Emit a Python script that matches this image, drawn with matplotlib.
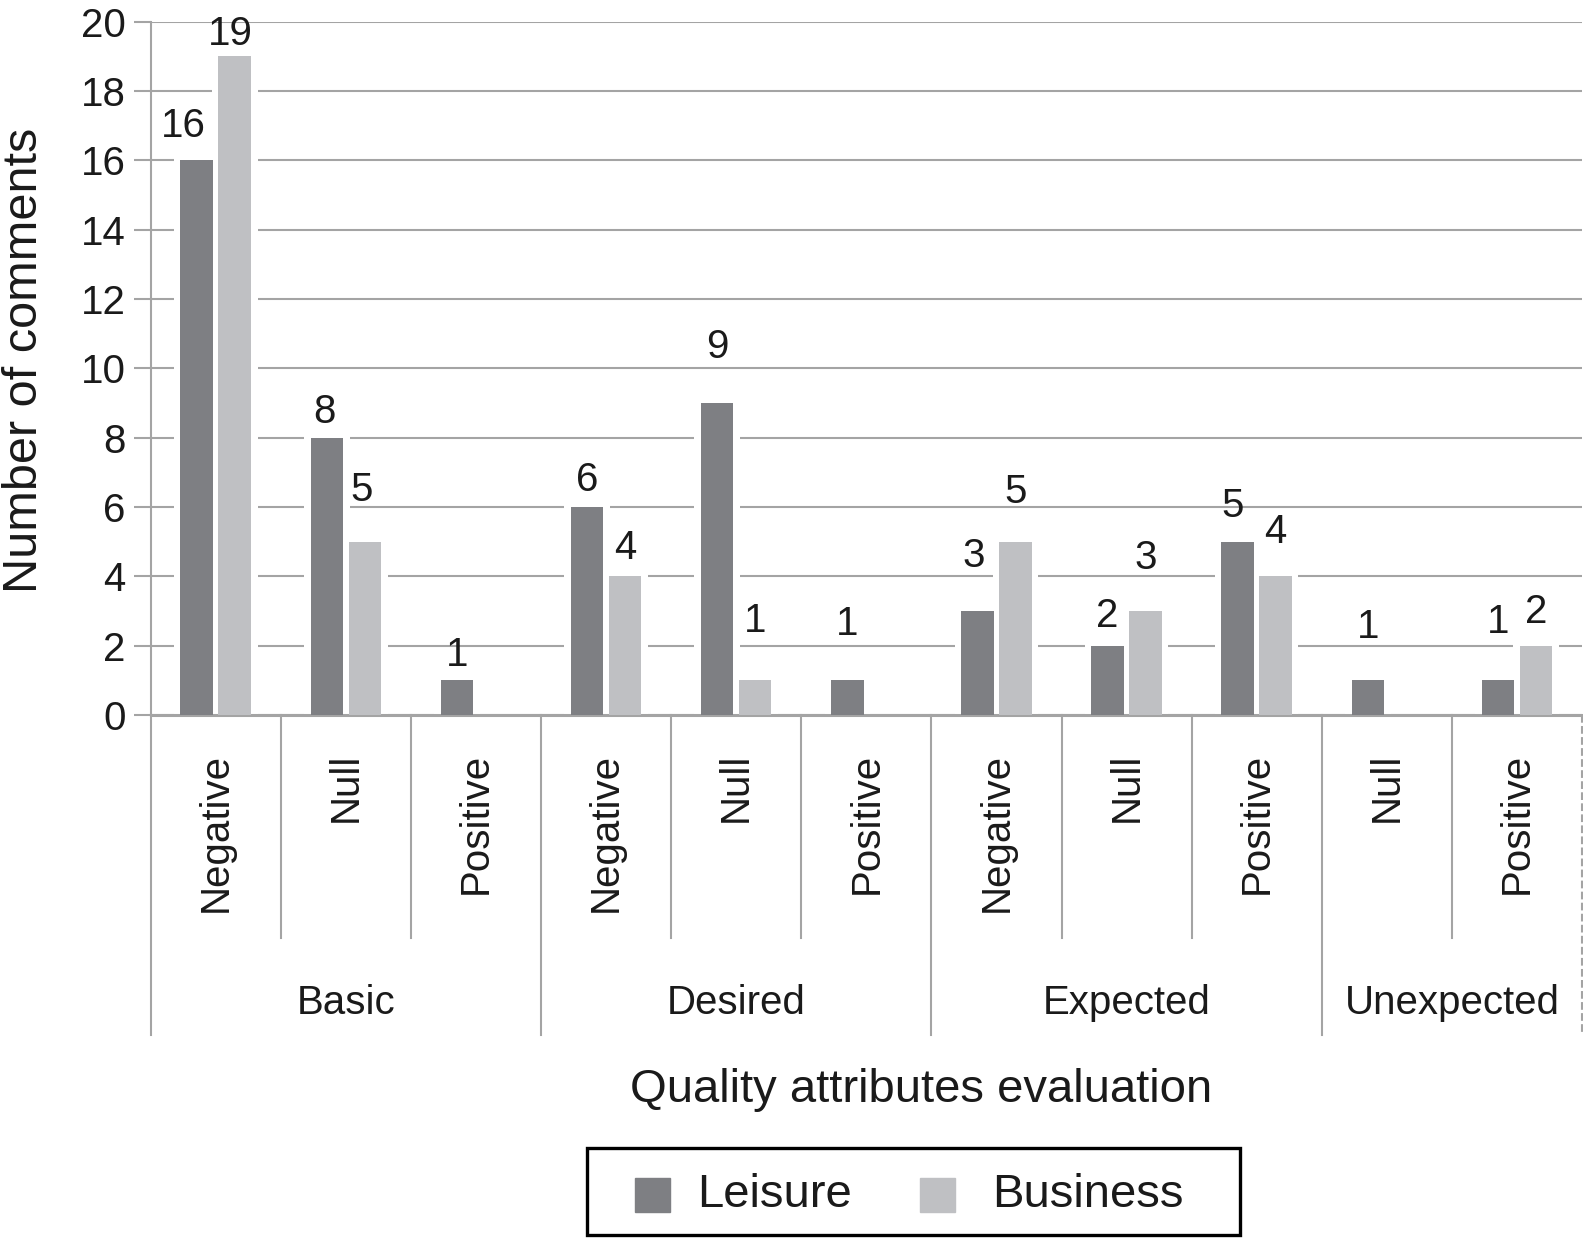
import numpy as np
import matplotlib
matplotlib.use("Agg")
import matplotlib.pyplot as plt
import matplotlib.transforms as mtransforms
from matplotlib.patches import Rectangle

plt.rcParams['font.family'] = ['Liberation Sans', 'DejaVu Sans']

# ---------- DATA ----------
groups = ['Basic', 'Desired', 'Expected', 'Unexpected']
group_sizes = [3, 3, 3, 2]
evaluations = ['Negative', 'Null', 'Positive',
               'Negative', 'Null', 'Positive',
               'Negative', 'Null', 'Positive',
               'Null', 'Positive']
leisure = [16, 8, 1, 6, 9, 1, 3, 2, 5, 1, 1]
business = [19, 5, None, 4, 1, None, 5, 3, 4, None, 2]
yticks = list(range(0, 21, 2))

# where each value label sits relative to its bar top (pixels)
leisure_lab_dx = [-13, -2, 0, 0, 0, 0, -4, 0, -5, 0, 0]
leisure_lab_dy = [34, 26, 25, 27, 56, 56, 55, 30, 36, 53, 58]
business_lab_dx = [-4, -3, 0, 0, 0, 0, 0, 0, 0, 0, 0]
business_lab_dy = [22, 52, 0, 28, 59, 0, 50, 53, 44, 0, 34]

# ---------- STYLE ----------
W, H = 1583, 1248
c_leisure = '#7e7f83'
c_business = '#bfc0c3'
c_grid = '#a4a4a4'
c_text = '#1a1a1a'
bar_w = 0.25
off = 0.146

fig = plt.figure(figsize=(W / 100, H / 100), dpi=100)
ax = fig.add_axes([150.7 / W, 1 - 715 / H, (1582 - 150.7) / W, (715 - 21.7) / H])

x = np.arange(len(evaluations))
ax.set_xlim(-0.5, len(evaluations) - 0.5)
ax.set_ylim(0, 20)
ax.set_axisbelow(True)

# white halo behind bars, then the bars
hx, hy = 0.05, 0.17
for xs, vals, col in [(x - off, leisure, c_leisure), (x + off, business, c_business)]:
    xs_ok = [xi for xi, v in zip(xs, vals) if v is not None]
    v_ok = [v for v in vals if v is not None]
    ax.bar(xs_ok, [v + hy for v in v_ok], width=bar_w + 2 * hx, color='white', zorder=2)
    ax.bar(xs_ok, v_ok, width=bar_w, color=col, zorder=3)

# value labels
for i, v in enumerate(leisure):
    ax.annotate(str(v), (x[i] - off, v), xytext=(leisure_lab_dx[i], leisure_lab_dy[i]),
                textcoords='offset pixels', ha='center', va='center',
                fontsize=29, color=c_text, zorder=4)
for i, v in enumerate(business):
    if v is None:
        continue
    ax.annotate(str(v), (x[i] + off, v), xytext=(business_lab_dx[i], business_lab_dy[i]),
                textcoords='offset pixels', ha='center', va='center',
                fontsize=29, color=c_text, zorder=4)

# y axis / grid
ax.set_yticks(yticks)
ax.yaxis.grid(True, color=c_grid, linewidth=1.5)
ax.tick_params(axis='y', direction='out', length=12, width=1.5, color=c_grid,
               labelsize=29, labelcolor=c_text, pad=6)
ax.set_xticks([])
for s in ['top', 'right']:
    ax.spines[s].set_visible(False)
ax.spines['left'].set_color(c_grid)
ax.spines['left'].set_linewidth(1.5)
ax.spines['bottom'].set_color(c_grid)
ax.spines['bottom'].set_linewidth(2.2)

# multi-level category axis below the plot
trans = mtransforms.blended_transform_factory(ax.transData, ax.transAxes)
inner_bottom = -(938 - 715) / (715 - 21.7)
outer_bottom = -(1035 - 715) / (715 - 21.7)
bounds = np.cumsum([0] + group_sizes) - 0.5
for b in np.arange(0.5, len(evaluations) - 0.5):
    if b not in bounds:
        ax.plot([b, b], [0, inner_bottom], transform=trans, color=c_grid,
                lw=1.5, clip_on=False)
for b in bounds:
    ls = '--' if b == bounds[-1] else '-'
    ax.plot([b, b], [0, outer_bottom], transform=trans, color=c_grid,
            lw=1.5, ls=ls, clip_on=False)

for i, name in enumerate(evaluations):
    ax.text(x[i], -(753 - 715) / (715 - 21.7), name, transform=trans, rotation=90,
            ha='center', va='top', fontsize=29, color=c_text)

for gi, g in enumerate(groups):
    mid = (bounds[gi] + bounds[gi + 1]) / 2
    ax.text(mid, -(1003 - 715) / (715 - 21.7), g, transform=trans,
            ha='center', va='center', fontsize=29, color=c_text)

# axis titles
fig.text(921 / W, 1 - 1090 / H, 'Quality attributes evaluation', ha='center',
         va='center', fontsize=34, color=c_text)
fig.text(25 / W, 1 - 360 / H, 'Number of comments', ha='center', va='center',
         rotation=90, fontsize=35, color=c_text)

# legend box
def fx(px):
    return px / W

def fy(py):
    return 1 - py / H

fig.add_artist(Rectangle((fx(587), fy(1235)), fx(1240) - fx(587), fy(1148) - fy(1235),
                         transform=fig.transFigure, fill=False, edgecolor='black', lw=2.4))
for x0, col, lab, tx in [(635, c_leisure, 'Leisure', 697), (920, c_business, 'Business', 992)]:
    fig.add_artist(Rectangle((fx(x0), fy(1212)), fx(x0 + 35) - fx(x0), fy(1178) - fy(1212),
                             transform=fig.transFigure, color=col))
    fig.text(fx(tx), fy(1195), lab, ha='left', va='center', fontsize=34, color=c_text)

plt.savefig('out.png', dpi=100)
